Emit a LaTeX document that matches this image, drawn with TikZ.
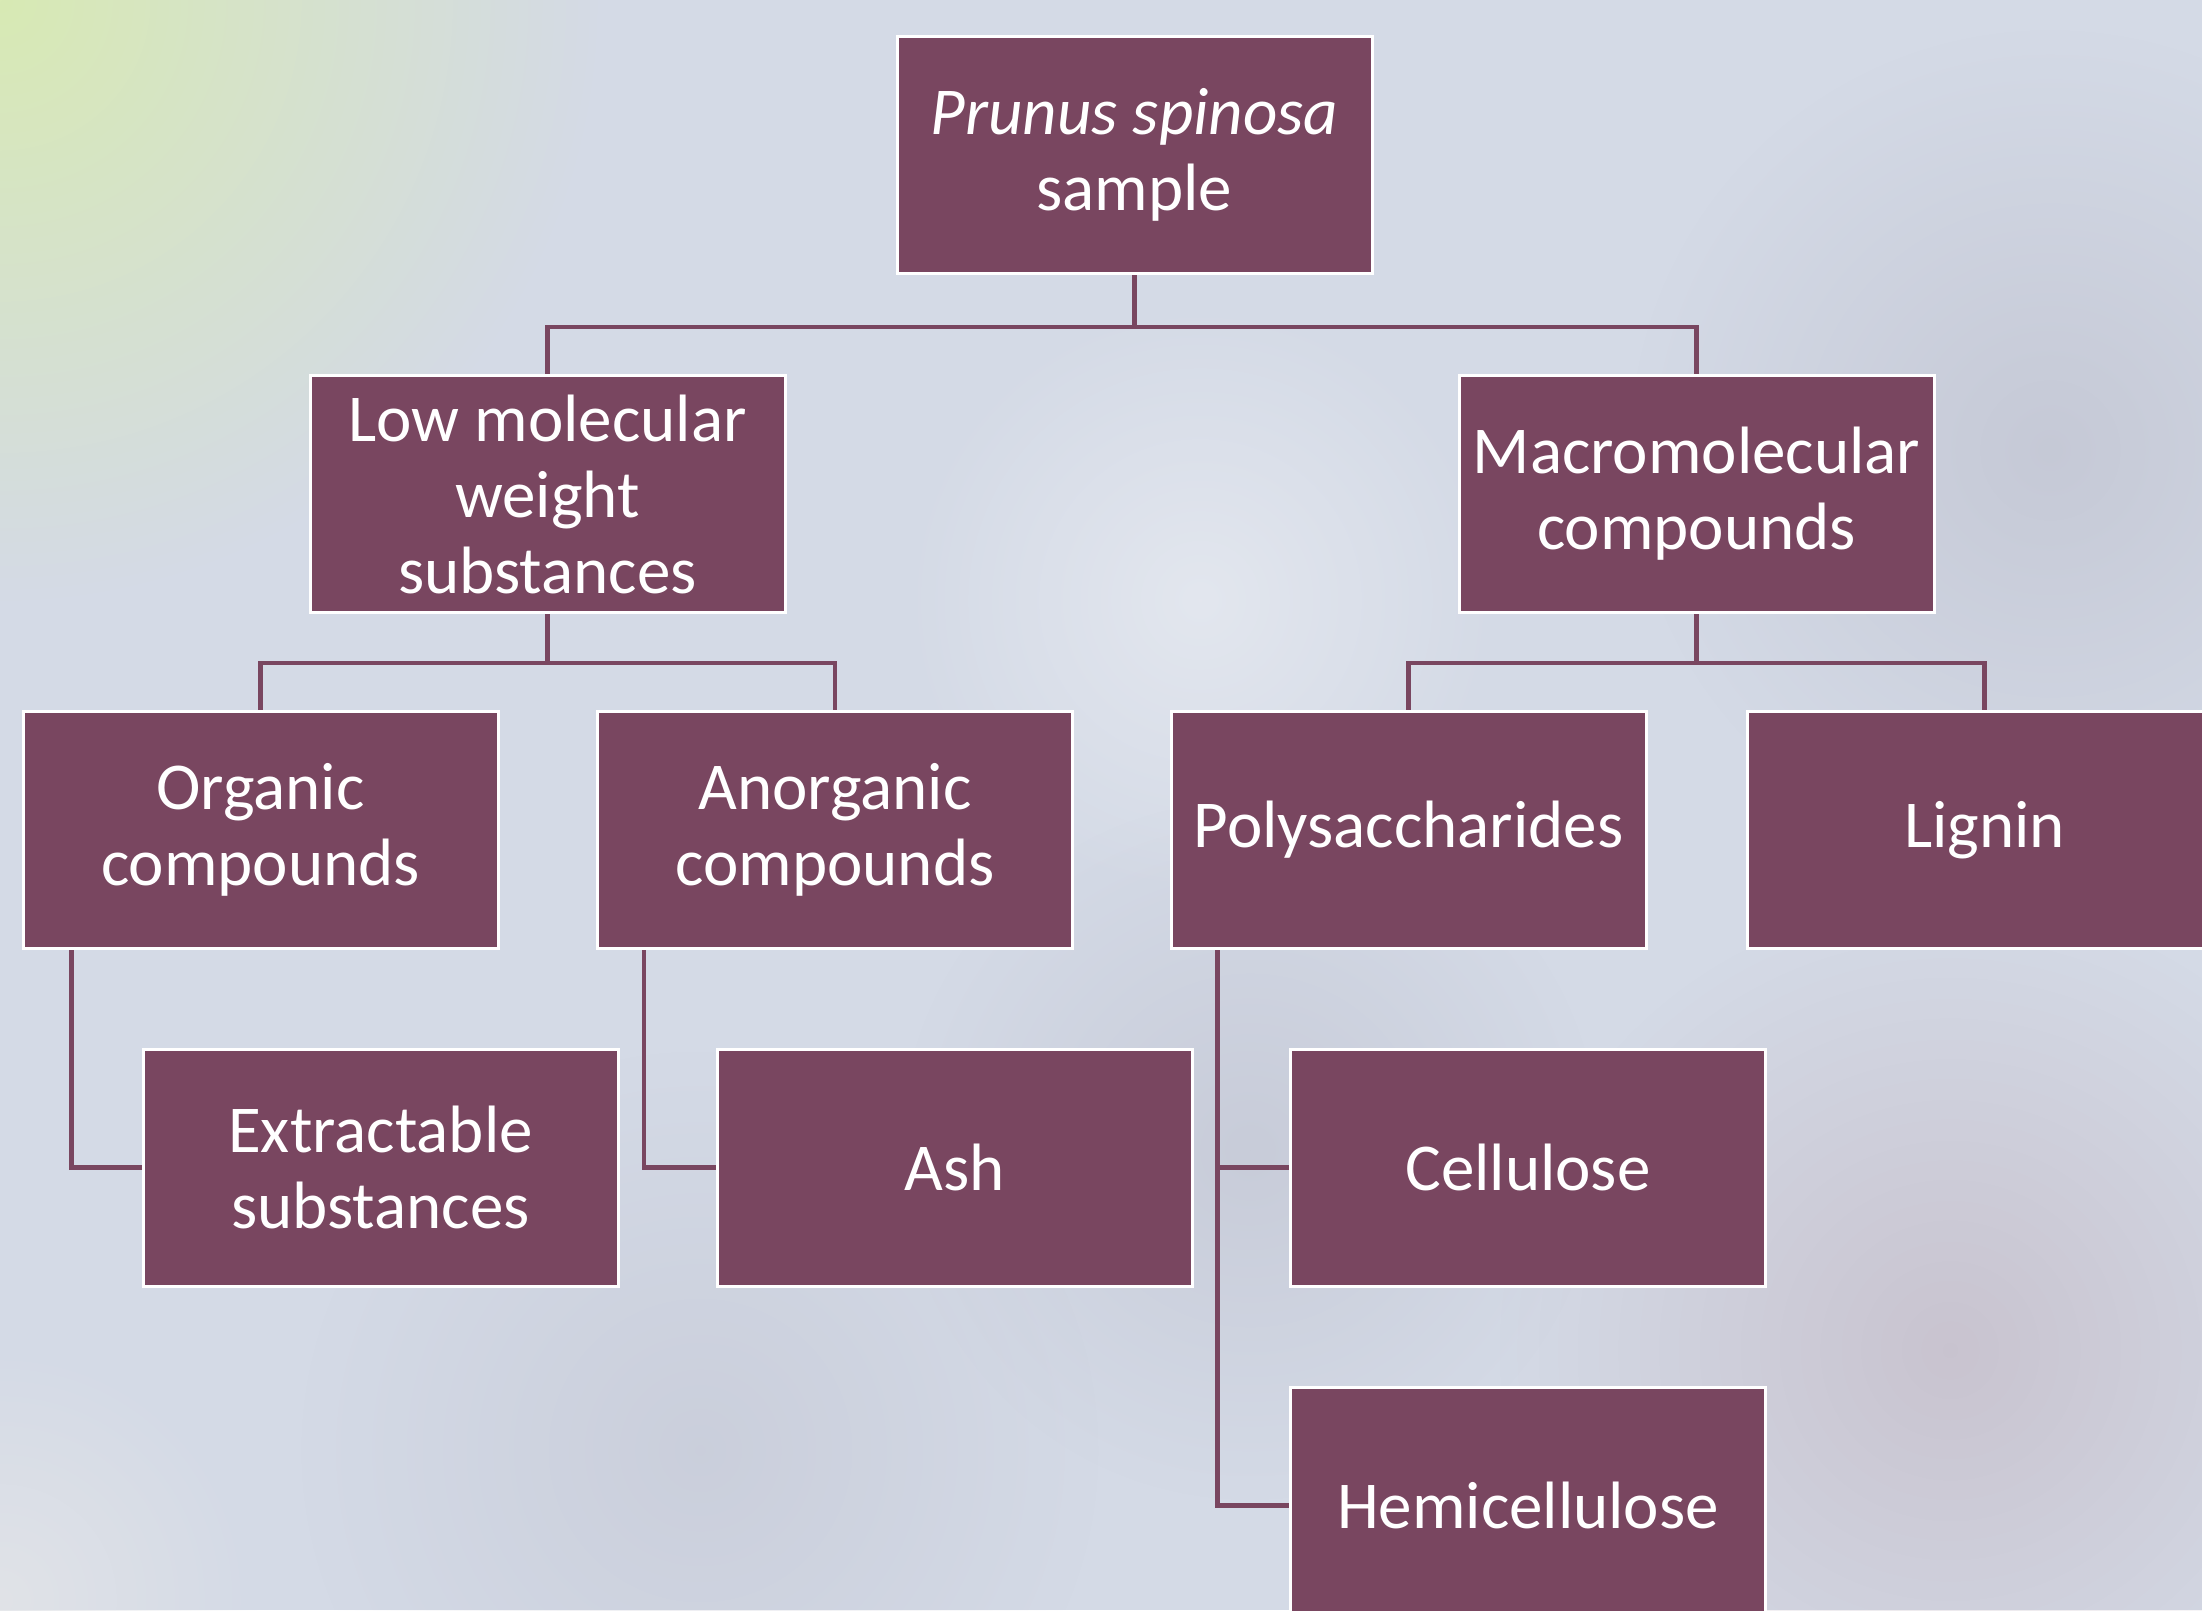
\documentclass[tikz,border=0pt]{standalone}
\usepackage{fontspec}
\setmainfont{Carlito}
\usetikzlibrary{calc,fadings}
\definecolor{boxc}{RGB}{121,70,96}
\definecolor{bgc}{RGB}{212,218,230}
\definecolor{greenc}{RGB}{216,234,180}
\definecolor{grayc}{RGB}{188,190,204}
\definecolor{pinkc}{RGB}{196,186,198}
\definecolor{lightc}{RGB}{226,228,232}
\tikzfading[name=softfade, inner color=transparent!0, outer color=transparent!100]
\pgfdeclarelayer{bg}
\pgfsetlayers{bg,main}
\begin{document}
\begin{tikzpicture}[x=1pt,y=-1pt,
  box/.style={draw=white, line width=3pt, fill=boxc, minimum width=475pt, minimum height=237pt,
    inner sep=0pt, text=white, align=center, font=\fontsize{67}{76}\selectfont},
  conn/.style={draw=boxc, line width=4.5pt}]
\useasboundingbox (0,0) rectangle (2202,1610);
% nodes
\node[box] (top) at (1134.5,155) {\textit{Prunus spinosa}\\sample};
\node[box] (lmw) at (547.5,494) {Low molecular\\weight\\substances};
\node[box] (macro) at (1696.5,494) {Macromolecular\\compounds};
\node[box] (org) at (260.5,830) {Organic\\compounds};
\node[box] (anorg) at (835,830) {Anorganic\\compounds};
\node[box] (poly) at (1408.5,830) {Polysaccharides};
\node[box] (lig) at (1984.5,830) {Lignin};
\node[box] (extr) at (380.5,1167.5) {Extractable\\substances};
\node[box] (ash) at (954.5,1167.5) {Ash};
\node[box] (cell) at (1528,1167.5) {Cellulose};
\node[box] (hemi) at (1528,1505.5) {Hemicellulose};
\begin{pgfonlayer}{bg}
\fill[bgc] (0,0) rectangle (2202,1610);
\fill[grayc, path fading=softfade, opacity=0.6] (2050,450) circle (420);
\fill[pinkc, path fading=softfade, opacity=0.7] (1950,1350) circle (450);
\fill[grayc, path fading=softfade, opacity=0.5] (1250,1150) circle (350);
\fill[grayc, path fading=softfade, opacity=0.4] (700,1450) circle (400);
\fill[lightc, path fading=softfade, opacity=0.9] (0,1600) circle (260);
\fill[white, path fading=softfade, opacity=0.35] (1200,600) circle (300);
\fill[greenc, path fading=softfade] (0,0) circle (600);
% connectors
\draw[conn] (top.south) -- ++(0,52) -| (lmw.north);
\draw[conn] (top.south) ++(0,52) -| (macro.north);
\draw[conn] (lmw.south) -- ++(0,49) -| (org.north);
\draw[conn] (lmw.south) ++(0,49) -| (anorg.north);
\draw[conn] (macro.south) -- ++(0,49) -| (poly.north);
\draw[conn] (macro.south) ++(0,49) -| (lig.north);
\draw[conn] ($(org.south west)+(50,0)$) |- (extr.west);
\draw[conn] ($(anorg.south west)+(48,0)$) |- (ash.west);
\draw[conn] ($(poly.south west)+(48,0)$) |- (cell.west);
\draw[conn] ($(poly.south west)+(48,0)$) |- (hemi.west);
\end{pgfonlayer}
\end{tikzpicture}
\end{document}
